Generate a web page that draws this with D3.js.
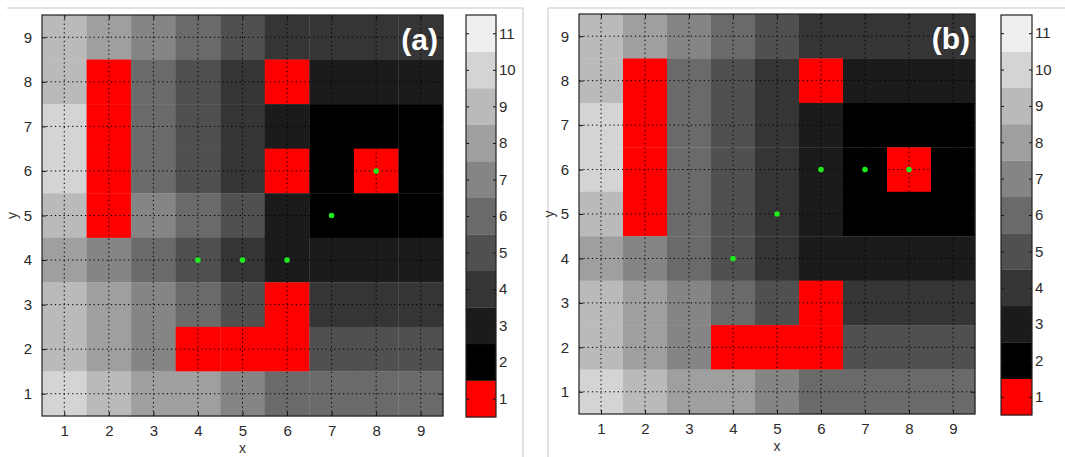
<!DOCTYPE html>
<html>
<head>
<meta charset="utf-8">
<script src="https://cdn.jsdelivr.net/npm/d3@7"></script>
<style>
  body { margin: 0; background: #fff; }
  text { font-family: "Liberation Sans", Arial, sans-serif; }
</style>
</head>
<body>
<svg id="chart" width="1065" height="457"></svg>
<script>
// grid levels, rows from y = 9 (top) down to y = 1; 1 = obstacle (red)
var gridRowsA = [
  [9, 8, 7, 6, 5, 4, 4, 4, 4],
  [9, 1, 6, 5, 4, 1, 3, 3, 3],
  [10, 1, 6, 5, 4, 3, 2, 2, 2],
  [10, 1, 6, 5, 4, 1, 2, 1, 2],
  [9, 1, 7, 6, 5, 3, 2, 2, 2],
  [8, 7, 6, 5, 4, 3, 3, 3, 3],
  [9, 8, 7, 6, 5, 1, 4, 4, 4],
  [9, 8, 7, 1, 1, 1, 5, 5, 5],
  [10, 9, 8, 8, 7, 6, 6, 6, 6]
];
var gridRowsB = [
  [9, 8, 7, 6, 5, 4, 4, 4, 4],
  [9, 1, 6, 5, 4, 1, 3, 3, 3],
  [10, 1, 6, 5, 4, 3, 2, 2, 2],
  [10, 1, 6, 5, 4, 3, 2, 1, 2],
  [9, 1, 6, 5, 4, 3, 2, 2, 2],
  [8, 7, 6, 5, 4, 3, 3, 3, 3],
  [9, 8, 7, 6, 5, 1, 4, 4, 4],
  [9, 8, 7, 1, 1, 1, 5, 5, 5],
  [10, 9, 8, 8, 7, 6, 6, 6, 6]
];
var rowY = [9, 8, 7, 6, 5, 4, 3, 2, 1];
var colX = [1, 2, 3, 4, 5, 6, 7, 8, 9];

// path points (green)
var pathA = [[4, 4], [5, 4], [6, 4], [7, 5], [8, 6]];
var pathB = [[4, 4], [5, 5], [6, 6], [7, 6], [8, 6]];

var axisTicks = [1, 2, 3, 4, 5, 6, 7, 8, 9];
var levels = [1, 2, 3, 4, 5, 6, 7, 8, 9, 10, 11];

var svg = d3.select("#chart");

function levelColor(v) {
  if (v === 1) return "#ff0000";
  var g = Math.round(255 * Math.min(1, (v - 2) * 0.104));
  return d3.rgb(g, g, g).toString();
}

function toCells(rows) {
  var out = [];
  rows.forEach(function(row, i) {
    row.forEach(function(v, j) {
      out.push({ x: colX[j], y: rowY[i], v: v });
    });
  });
  return out;
}

function drawPanel(p) {
  // light frame of the figure panel
  var frame = svg.append("g");
  p.frame.forEach(function(l) {
    frame.append("line")
      .attr("x1", l[0]).attr("y1", l[1]).attr("x2", l[2]).attr("y2", l[3])
      .attr("stroke", "#d9d9d9").attr("stroke-width", 1.5);
  });

  var x = d3.scaleLinear().domain([0.5, 9.5]).range([p.left, p.right]);
  var y = d3.scaleLinear().domain([0.5, 9.5]).range([p.bottom, p.top]);
  var cw = x(1.5) - x(0.5), ch = y(0.5) - y(1.5);

  var g = svg.append("g");

  g.selectAll("rect.cell")
    .data(toCells(p.rows))
    .enter().append("rect")
    .attr("class", "cell")
    .attr("x", function(d) { return x(d.x - 0.5); })
    .attr("y", function(d) { return y(d.y + 0.5); })
    .attr("width", cw + 0.3)
    .attr("height", ch + 0.3)
    .attr("fill", function(d) { return levelColor(d.v); });

  // dotted grid
  g.selectAll("line.vg")
    .data(axisTicks)
    .enter().append("line")
    .attr("x1", function(d) { return x(d); }).attr("x2", function(d) { return x(d); })
    .attr("y1", p.top).attr("y2", p.bottom)
    .attr("stroke", "#000").attr("stroke-width", 1)
    .attr("stroke-dasharray", "1.3,3");
  g.selectAll("line.hg")
    .data(axisTicks)
    .enter().append("line")
    .attr("y1", function(d) { return y(d); }).attr("y2", function(d) { return y(d); })
    .attr("x1", p.left).attr("x2", p.right)
    .attr("stroke", "#000").attr("stroke-width", 1)
    .attr("stroke-dasharray", "1.3,3");

  // green path points
  g.selectAll("circle.pt")
    .data(p.path)
    .enter().append("circle")
    .attr("cx", function(d) { return x(d[0]); })
    .attr("cy", function(d) { return y(d[1]); })
    .attr("r", 2.8)
    .attr("fill", "#1eea1e");

  // axes, ticks inward on all sides
  var axB = g.append("g").attr("transform", "translate(0," + p.bottom + ")")
    .call(d3.axisBottom(x).tickValues(axisTicks).tickSizeInner(-4).tickSizeOuter(0).tickPadding(9));
  var axT = g.append("g").attr("transform", "translate(0," + p.top + ")")
    .call(d3.axisTop(x).tickValues(axisTicks).tickSizeInner(-4).tickSizeOuter(0).tickFormat(""));
  var axL = g.append("g").attr("transform", "translate(" + p.left + ",0)")
    .call(d3.axisLeft(y).tickValues(axisTicks).tickSizeInner(-4).tickSizeOuter(0).tickPadding(10));
  var axR = g.append("g").attr("transform", "translate(" + p.right + ",0)")
    .call(d3.axisRight(y).tickValues(axisTicks).tickSizeInner(-4).tickSizeOuter(0).tickFormat(""));
  [axB, axT, axL, axR].forEach(function(a) {
    a.select(".domain").remove();
    a.selectAll("line").attr("stroke", "#111");
    a.selectAll("text").attr("font-size", 15).attr("fill", "#2a2a2a");
  });

  g.append("rect")
    .attr("x", p.left).attr("y", p.top)
    .attr("width", p.right - p.left).attr("height", p.bottom - p.top)
    .attr("fill", "none").attr("stroke", "#222").attr("stroke-width", 1.2);

  g.append("text")
    .attr("x", (p.left + p.right) / 2).attr("y", p.bottom + 37)
    .attr("text-anchor", "middle").attr("font-size", 14).attr("fill", "#333")
    .text("x");
  g.append("text")
    .attr("transform", "translate(" + (p.left - 25) + "," + ((p.top + p.bottom) / 2) + ") rotate(-90)")
    .attr("text-anchor", "middle").attr("font-size", 14).attr("fill", "#333")
    .text("y");

  g.append("text")
    .attr("x", p.right - 5).attr("y", p.top + 35)
    .attr("text-anchor", "end")
    .attr("font-family", "'Open Sans', sans-serif")
    .attr("font-weight", "bold")
    .attr("font-size", 30)
    .attr("fill", "#fff")
    .text(p.label);

  // colorbar
  var cy = d3.scaleLinear().domain([0.5, 11.5]).range([p.cbBottom, p.cbTop]);
  var cb = svg.append("g");
  cb.selectAll("rect")
    .data(levels)
    .enter().append("rect")
    .attr("x", p.cbLeft)
    .attr("y", function(d) { return cy(d + 0.5); })
    .attr("width", p.cbRight - p.cbLeft)
    .attr("height", cy(0.5) - cy(1.5) + 0.3)
    .attr("fill", levelColor);
  var cbR = cb.append("g").attr("transform", "translate(" + p.cbRight + ",0)")
    .call(d3.axisRight(cy).tickValues(levels).tickSizeInner(-3).tickSizeOuter(0).tickPadding(3));
  var cbL = cb.append("g").attr("transform", "translate(" + p.cbLeft + ",0)")
    .call(d3.axisLeft(cy).tickValues(levels).tickSizeInner(-3).tickSizeOuter(0).tickFormat(""));
  [cbR, cbL].forEach(function(a) {
    a.select(".domain").remove();
    a.selectAll("line").attr("stroke", "#111");
    a.selectAll("text").attr("font-size", 15).attr("fill", "#2a2a2a");
  });
  cb.append("rect")
    .attr("x", p.cbLeft).attr("y", p.cbTop)
    .attr("width", p.cbRight - p.cbLeft).attr("height", p.cbBottom - p.cbTop)
    .attr("fill", "none").attr("stroke", "#222").attr("stroke-width", 1.2);
}

drawPanel({
  label: "(a)", path: pathA, rows: gridRowsA,
  left: 42, right: 443, top: 15, bottom: 416,
  cbLeft: 466, cbRight: 496, cbTop: 15, cbBottom: 417,
  frame: [[7, 8, 523, 8], [523, 8, 523, 457]]
});
drawPanel({
  label: "(b)", path: pathB, rows: gridRowsB,
  left: 579, right: 975, top: 14, bottom: 414,
  cbLeft: 1001, cbRight: 1032, cbTop: 15, cbBottom: 415,
  frame: [[548, 8, 1065, 8], [548, 8, 548, 457]]
});
</script>
</body>
</html>
